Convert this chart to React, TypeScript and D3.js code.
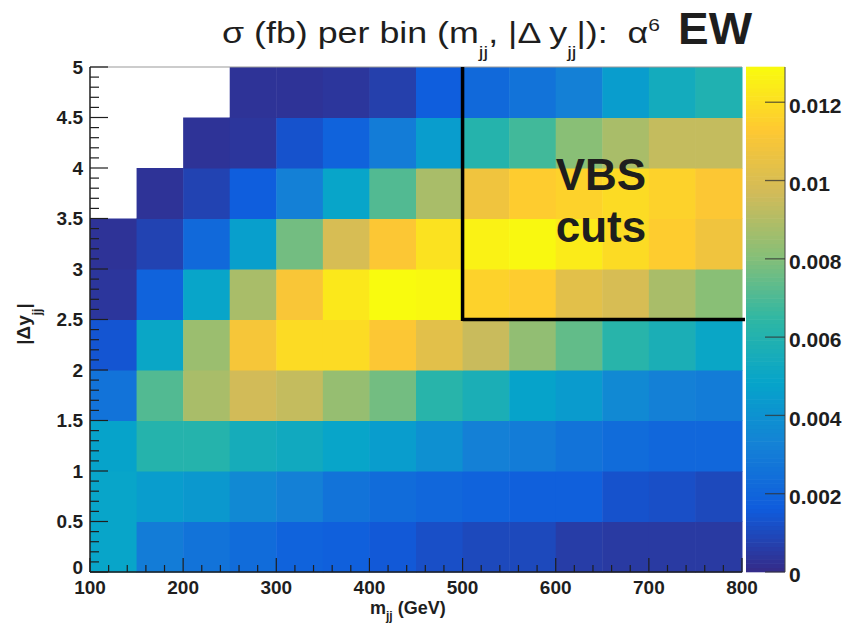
import * as d3 from 'd3';

// bin lower edges (GeV / |Δy|)
const MJJ_BINS = [100, 150, 200, 250, 300, 350, 400, 450, 500, 550, 600, 650, 700, 750];
const DY_BINS = [0, 0.5, 1, 1.5, 2, 2.5, 3, 3.5, 4, 4.5];
const MJJ_WIDTH = 50;
const DY_WIDTH = 0.5;

// sigma (fb) per bin, one row per |Δy| bin from bottom to top; null = empty bin
const SIGMA: (number | null)[][] = [
  [0.0049, 0.0030, 0.0026, 0.0023, 0.0019, 0.0018, 0.0015, 0.0012, 0.0010, 0.0010, 0.0006, 0.0005, 0.0005, 0.0005],
  [0.0049, 0.0045, 0.0043, 0.0036, 0.0032, 0.0026, 0.0023, 0.0021, 0.0019, 0.0018, 0.0018, 0.0013, 0.0012, 0.0010],
  [0.0048, 0.0061, 0.0061, 0.0055, 0.0053, 0.0049, 0.0045, 0.0039, 0.0032, 0.0030, 0.0026, 0.0023, 0.0021, 0.0021],
  [0.0026, 0.0071, 0.0088, 0.0097, 0.0094, 0.0084, 0.0077, 0.0062, 0.0057, 0.0048, 0.0044, 0.0036, 0.0032, 0.0030],
  [0.0014, 0.0050, 0.0085, 0.0110, 0.0119, 0.0119, 0.0112, 0.0103, 0.0095, 0.0083, 0.0074, 0.0062, 0.0057, 0.0050],
  [0.0004, 0.0019, 0.0049, 0.0088, 0.0111, 0.0123, 0.0129, 0.0128, 0.0116, 0.0114, 0.0103, 0.0099, 0.0088, 0.0081],
  [0.0003, 0.0008, 0.0022, 0.0046, 0.0077, 0.0099, 0.0112, 0.0121, 0.0126, 0.0128, 0.0124, 0.0119, 0.0114, 0.0108],
  [null, 0.0003, 0.0008, 0.0017, 0.0032, 0.0049, 0.0071, 0.0088, 0.0108, 0.0114, 0.0116, 0.0119, 0.0116, 0.0112],
  [null, null, 0.0003, 0.0004, 0.0013, 0.0019, 0.0030, 0.0045, 0.0061, 0.0068, 0.0081, 0.0088, 0.0094, 0.0094],
  [null, null, null, 0.0003, 0.0003, 0.0004, 0.0007, 0.0017, 0.0022, 0.0026, 0.0032, 0.0045, 0.0054, 0.0059],
];

const Z_MAX = 0.0129;
const VBS_MJJ_CUT = 500;
const VBS_DY_CUT = 2.5;

// ROOT kBird palette stops
const BIRD_STOPS = [0, 0.125, 0.25, 0.375, 0.5, 0.625, 0.75, 0.875, 1];
const BIRD_COLORS = [
  'rgb(53,42,135)', 'rgb(15,92,221)', 'rgb(20,129,214)', 'rgb(6,164,202)',
  'rgb(46,183,164)', 'rgb(135,191,119)', 'rgb(209,187,89)', 'rgb(254,200,50)', 'rgb(249,251,14)',
];

const PLOT = { left: 90, top: 67, right: 742, bottom: 572 };
const CBAR = { left: 746, right: 785 };
const FONT = '"Liberation Sans", Arial, Helvetica, sans-serif';
const INK = '#1e1e1e';

export default function App() {
  const x = d3.scaleLinear().domain([100, 800]).range([PLOT.left, PLOT.right]);
  const y = d3.scaleLinear().domain([0, 5]).range([PLOT.bottom, PLOT.top]);
  const z = d3.scaleLinear().domain([0, Z_MAX]).range([PLOT.bottom, PLOT.top]);
  const color = d3
    .scaleLinear<string>()
    .domain(BIRD_STOPS.map((s) => s * Z_MAX))
    .range(BIRD_COLORS)
    .interpolate(d3.interpolateRgb)
    .clamp(true);

  const strips = d3.range(0, 120).map((i) => (i / 120) * Z_MAX);
  const stripH = (PLOT.bottom - PLOT.top) / 120;

  const xMajor = x.ticks(7);
  const xMinor = x.ticks(35).filter((t) => !xMajor.includes(t));
  const yMajor = y.ticks(10);
  const yMinor = y.ticks(50).filter((t) => !yMajor.some((m) => Math.abs(m - t) < 1e-9));
  const zTicks = z.ticks(7);

  return (
    <div style={{ position: 'absolute', left: 0, top: 0 }}>
      <svg width={850} height={633} style={{ display: 'block', fontFamily: FONT }}>
        <rect width={850} height={633} fill="#fff" />

        {/* heatmap cells */}
        {SIGMA.map((row, j) =>
          row.map((v, i) =>
            v == null ? null : (
              <rect
                key={`${i}-${j}`}
                x={x(MJJ_BINS[i])}
                y={y(DY_BINS[j] + DY_WIDTH)}
                width={x(MJJ_BINS[i] + MJJ_WIDTH) - x(MJJ_BINS[i]) + 0.5}
                height={y(DY_BINS[j]) - y(DY_BINS[j] + DY_WIDTH) + 0.5}
                fill={color(v)}
              />
            )
          )
        )}

        {/* frame */}
        <line x1={PLOT.left} y1={PLOT.top} x2={PLOT.right} y2={PLOT.top} stroke="#999" strokeWidth={1} />
        <line x1={PLOT.left} y1={PLOT.top} x2={PLOT.left} y2={PLOT.bottom} stroke={INK} strokeWidth={1.5} />
        <line x1={PLOT.left} y1={PLOT.bottom} x2={PLOT.right} y2={PLOT.bottom} stroke={INK} strokeWidth={1.5} />

        {/* y ticks */}
        {yMajor.map((t) => (
          <g key={`ym${t}`}>
            <line x1={PLOT.left} x2={PLOT.left + 18} y1={y(t)} y2={y(t)} stroke={INK} strokeWidth={1.2} />
            <text x={83} y={y(t) - (t === 0 ? 5 : 0)} dy="0.35em" textAnchor="end" fontSize={19} fontWeight={700} fill={INK}>
              {t}
            </text>
          </g>
        ))}
        {yMinor.map((t) => (
          <line key={`yn${t}`} x1={PLOT.left} x2={PLOT.left + 9} y1={y(t)} y2={y(t)} stroke={INK} strokeWidth={1.2} />
        ))}

        {/* x ticks */}
        {xMajor.map((t) => (
          <g key={`xm${t}`}>
            <line x1={x(t)} x2={x(t)} y1={PLOT.bottom} y2={PLOT.bottom - 14} stroke={INK} strokeWidth={1.2} />
            <text x={x(t)} y={594} textAnchor="middle" fontSize={19} fontWeight={700} fill={INK}>
              {t}
            </text>
          </g>
        ))}
        {xMinor.map((t) => (
          <line key={`xn${t}`} x1={x(t)} x2={x(t)} y1={PLOT.bottom} y2={PLOT.bottom - 7} stroke={INK} strokeWidth={1.2} />
        ))}

        {/* VBS cut region */}
        <line x1={x(VBS_MJJ_CUT)} x2={x(VBS_MJJ_CUT)} y1={y(5)} y2={y(VBS_DY_CUT) + 1.5} stroke="#000" strokeWidth={3.5} />
        <line x1={x(VBS_MJJ_CUT)} x2={x(800) + 3} y1={y(VBS_DY_CUT)} y2={y(VBS_DY_CUT)} stroke="#000" strokeWidth={3.5} />
        <text x={601} y={190} textAnchor="middle" fontSize={44} fontWeight={700} fill={INK}>VBS</text>
        <text x={601} y={242} textAnchor="middle" fontSize={44} fontWeight={700} fill={INK}>cuts</text>

        {/* colour bar */}
        {strips.map((s, i) => (
          <rect
            key={`cb${i}`}
            x={CBAR.left}
            y={z(s) - stripH - 0.3}
            width={CBAR.right - CBAR.left}
            height={stripH + 0.6}
            fill={color(s + Z_MAX / 240)}
          />
        ))}
        <line x1={CBAR.right} x2={CBAR.right} y1={PLOT.top} y2={PLOT.bottom} stroke="#444" strokeWidth={1} />
        {zTicks.map((t) => (
          <g key={`zt${t}`}>
            <line x1={CBAR.right} x2={CBAR.right - 20} y1={z(t)} y2={z(t)} stroke="#333" strokeOpacity={0.75} strokeWidth={1.3} />
            <text x={789} y={z(t) + 3} dy="0.35em" fontSize={21} fontWeight={700} fill={INK}>
              {parseFloat(t.toFixed(4))}
            </text>
          </g>
        ))}

        {/* title */}
        <text
          x={222}
          y={43}
          fontSize={29}
          fill={INK}
          textLength={438}
          lengthAdjust="spacingAndGlyphs"
          style={{ whiteSpace: 'pre' }}
        >
          <tspan>σ (fb) per bin (m</tspan>
          <tspan dy={15} fontSize={17}>jj</tspan>
          <tspan dy={-15}>, |Δ y</tspan>
          <tspan dy={15} fontSize={17}>jj</tspan>
          <tspan dy={-15}>|):  α</tspan>
          <tspan dy={-12} fontSize={17}>6</tspan>
        </text>
        <text x={678} y={44} fontSize={44} fontWeight={700} fill={INK} textLength={74} lengthAdjust="spacingAndGlyphs">
          EW
        </text>

        {/* axis titles */}
        <text x={370} y={614} fontSize={18} fontWeight={700} fill={INK}>
          <tspan>m</tspan>
          <tspan dy={6} fontSize={12}>jj</tspan>
          <tspan dy={-6}> (GeV)</tspan>
        </text>
        <text transform="translate(30,324) rotate(-90)" textAnchor="middle" fontSize={19} fontWeight={700} fill={INK}>
          <tspan>|Δy</tspan>
          <tspan dy={11} fontSize={12}>jj</tspan>
          <tspan dy={-11}>|</tspan>
        </text>
      </svg>
    </div>
  );
}
